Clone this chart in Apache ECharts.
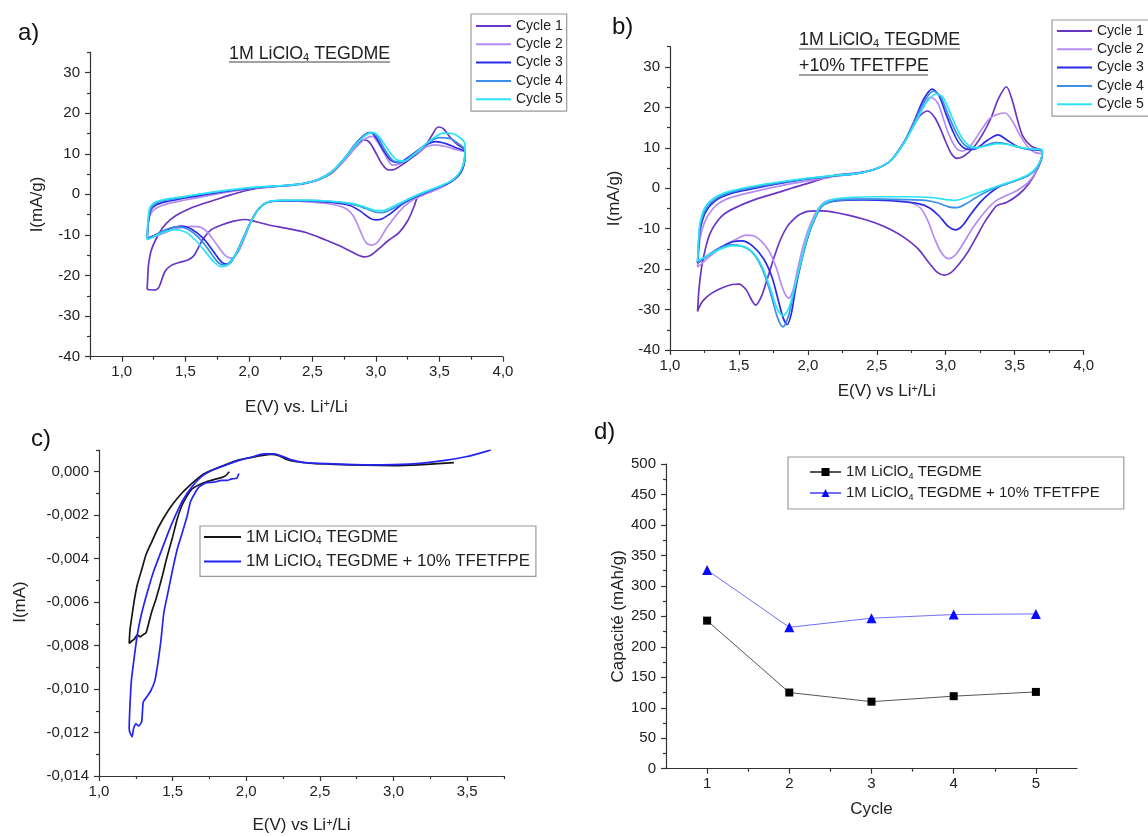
<!DOCTYPE html>
<html>
<head>
<meta charset="utf-8">
<script src="https://cdn.jsdelivr.net/npm/echarts@6/dist/echarts.min.js"></script>
<style>
html,body{margin:0;padding:0;background:#fff;}
#chart{width:1148px;height:837px;}
</style>
</head>
<body>
<div id="chart"></div>
<script>
// ---------------- DATA ----------------
// Panel a) 1M LiClO4 TEGDME : [E (V), I (mA/g)]
const a_cycle1 = [[1.2,-23.4],[1.205,-20],[1.21,-17.5],[1.23,-14],[1.27,-11],[1.32,-8.3],[1.38,-6.3],[1.45,-4.8],[1.55,-3.3],[1.65,-2.2],[1.75,-1.2],[1.85,-0.2],[1.95,0.7],[2.05,1.4],[2.2,1.9],[2.35,2.3],[2.45,2.8],[2.55,3.6],[2.65,5.2],[2.72,7.3],[2.8,10.2],[2.86,12.5],[2.91,13.4],[2.95,12.8],[3.0,10.2],[3.05,7.4],[3.1,6.0],[3.15,6.2],[3.22,7.6],[3.3,9.4],[3.38,11.5],[3.44,14.5],[3.49,16.6],[3.53,16.2],[3.58,14.2],[3.64,12.3],[3.7,10.8],
  [3.7,9.5],[3.68,6.5],[3.63,4.2],[3.55,2.4],[3.45,0.9],[3.38,0.2],[3.33,-0.5],[3.3,-3],[3.25,-6.5],[3.18,-9.5],[3.1,-11.3],[3.02,-13.5],[2.96,-15],[2.91,-15.4],[2.85,-14.8],[2.75,-13.2],[2.6,-11.2],[2.45,-9.4],[2.3,-8.4],[2.15,-7.5],[2.05,-6.7],[1.97,-6.2],[1.88,-6.6],[1.78,-7.6],[1.7,-8.8],[1.63,-11.5],[1.57,-15],[1.52,-16.2],[1.45,-16.8],[1.39,-17.5],[1.34,-19],[1.31,-21.5],[1.29,-23],[1.26,-23.6],[1.22,-23.5],[1.2,-23.4]];
const a_cycle2 = [[1.2,-11],[1.21,-7],[1.23,-4.6],[1.27,-3.4],[1.35,-2.4],[1.5,-1.4],[1.7,-0.2],[1.9,0.9],[2.1,1.7],[2.3,2.1],[2.45,2.7],[2.55,3.6],[2.65,5.3],[2.75,8.3],[2.85,11.8],[2.92,13.8],[2.97,14.3],[3.02,12.5],[3.08,9.3],[3.13,7.2],[3.18,7.4],[3.25,8.8],[3.33,10.4],[3.4,11.8],[3.47,12.2],[3.55,11.8],[3.63,11],[3.7,10.3],
  [3.7,9],[3.67,5.5],[3.6,3.3],[3.5,1.5],[3.4,0.2],[3.3,-1.2],[3.22,-3],[3.15,-5.5],[3.08,-8.5],[3.02,-11.5],[2.97,-12.5],[2.92,-11.8],[2.87,-8.5],[2.82,-5.2],[2.75,-3.3],[2.6,-2.2],[2.4,-1.7],[2.25,-1.6],[2.15,-2],[2.08,-3.5],[2.02,-6.5],[1.97,-10.5],[1.92,-14],[1.87,-15.7],[1.82,-15.2],[1.75,-12.5],[1.68,-9.5],[1.62,-8.1],[1.55,-7.9],[1.45,-8.3],[1.35,-9.3],[1.27,-10.3],[1.2,-11]];
const a_cycle3 = [[1.2,-10.8],[1.21,-6.5],[1.23,-3.8],[1.27,-2.6],[1.35,-1.8],[1.5,-0.9],[1.7,0.2],[1.9,1.1],[2.1,1.8],[2.3,2.2],[2.45,2.8],[2.55,3.7],[2.65,5.5],[2.75,8.8],[2.85,12.8],[2.92,14.9],[2.96,15.2],[3.0,14],[3.06,10.8],[3.12,8.3],[3.18,7.8],[3.25,9],[3.33,10.8],[3.4,12.3],[3.47,13],[3.55,12.5],[3.63,11.5],[3.7,10.5],
  [3.7,9],[3.67,5.5],[3.6,3.3],[3.5,1.8],[3.4,0.6],[3.3,-0.8],[3.2,-2.6],[3.12,-4.6],[3.05,-6],[3.0,-6.3],[2.95,-5.8],[2.88,-4.2],[2.8,-2.8],[2.65,-2],[2.45,-1.6],[2.25,-1.6],[2.15,-1.9],[2.08,-3.5],[2.02,-6.5],[1.96,-10.5],[1.9,-14.5],[1.84,-17.2],[1.79,-16.8],[1.72,-14],[1.64,-10.8],[1.55,-8.6],[1.47,-7.8],[1.4,-8.2],[1.32,-9.2],[1.25,-10.2],[1.2,-10.8]];
const a_cycle4 = [[1.2,-11],[1.21,-6],[1.23,-3.4],[1.27,-2.2],[1.35,-1.4],[1.5,-0.6],[1.7,0.4],[1.9,1.2],[2.1,1.8],[2.3,2.2],[2.45,2.8],[2.55,3.7],[2.65,5.5],[2.75,8.8],[2.85,12.8],[2.92,14.8],[2.97,15.2],[3.02,13.8],[3.08,10.5],[3.14,8.2],[3.2,7.9],[3.27,9.3],[3.35,11.3],[3.42,13],[3.5,14],[3.58,13.8],[3.65,12.5],[3.7,11],
  [3.7,9.5],[3.67,5.8],[3.6,3.4],[3.5,1.9],[3.4,0.7],[3.3,-0.6],[3.2,-2.3],[3.12,-3.7],[3.05,-4.5],[3.0,-4.4],[2.92,-3.5],[2.82,-2.5],[2.65,-1.8],[2.45,-1.5],[2.25,-1.5],[2.15,-1.9],[2.08,-3.5],[2.02,-6.5],[1.96,-10.5],[1.9,-14.5],[1.84,-17],[1.8,-17.4],[1.75,-16.5],[1.68,-13.5],[1.6,-10.5],[1.52,-8.6],[1.44,-8.0],[1.37,-8.4],[1.3,-9.4],[1.25,-10.3],[1.2,-11]];
const a_cycle5 = [[1.2,-11.2],[1.205,-7],[1.22,-3.4],[1.26,-2],[1.33,-1.3],[1.5,-0.5],[1.7,0.5],[1.9,1.3],[2.1,1.9],[2.3,2.2],[2.45,2.8],[2.55,3.7],[2.65,5.5],[2.75,8.8],[2.85,12.5],[2.93,14.8],[2.98,15.2],[3.03,14],[3.1,10.8],[3.16,8.6],[3.22,8.2],[3.3,9.8],[3.38,12],[3.46,14],[3.53,15.1],[3.6,15],[3.66,14],[3.7,12.5],
  [3.7,10],[3.67,6],[3.6,3.5],[3.5,2],[3.4,0.8],[3.3,-0.5],[3.2,-2],[3.12,-3.2],[3.05,-4],[3.0,-4],[2.92,-3.2],[2.82,-2.3],[2.65,-1.7],[2.45,-1.5],[2.25,-1.5],[2.15,-1.9],[2.08,-3.6],[2.02,-6.6],[1.96,-10.6],[1.9,-14.6],[1.84,-17.3],[1.78,-17.8],[1.72,-16.5],[1.65,-13.8],[1.57,-11],[1.5,-9.3],[1.42,-8.7],[1.35,-9.1],[1.28,-10],[1.2,-11.2]];

// Panel b) 1M LiClO4 TEGDME +10% TFETFPE : [E (V), I (mA/g)]
const b_cycle1 = [[1.2,-30.5],[1.21,-25],[1.23,-19.4],[1.26,-14.5],[1.29,-11.2],[1.34,-8.3],[1.4,-6.2],[1.5,-4.4],[1.6,-3],[1.7,-1.9],[1.8,-0.9],[1.9,0.2],[2.0,1.2],[2.1,2.3],[2.2,3.2],[2.3,3.6],[2.4,4.0],[2.5,4.9],[2.6,6.8],[2.7,11.5],[2.76,15],[2.81,17.8],[2.87,19.1],[2.92,17.5],[2.96,14.8],[3.0,11.5],[3.04,8.6],[3.08,7.4],[3.13,7.9],[3.2,10],[3.27,13.5],[3.33,17.5],[3.38,22],[3.44,25.1],[3.48,22],[3.52,17],[3.56,12.8],[3.62,10.4],[3.7,9.2],
  [3.7,8.5],[3.67,5],[3.6,1],[3.52,-1.8],[3.44,-3.5],[3.37,-4.3],[3.33,-6],[3.28,-8.5],[3.22,-12.2],[3.16,-15.8],[3.1,-18.6],[3.04,-20.8],[2.99,-21.5],[2.94,-20.8],[2.88,-18.5],[2.8,-15],[2.7,-12.2],[2.6,-10.2],[2.5,-8.7],[2.4,-7.6],[2.3,-6.7],[2.2,-6],[2.1,-5.6],[2.0,-5.7],[1.94,-6.5],[1.9,-7.6],[1.85,-9.5],[1.8,-12.8],[1.75,-17.6],[1.7,-23],[1.66,-27],[1.62,-28.9],[1.59,-27.5],[1.55,-25],[1.5,-23.7],[1.45,-23.8],[1.38,-24.6],[1.3,-26],[1.24,-27.8],[1.21,-29.5],[1.2,-30.5]];
const b_cycle2 = [[1.2,-19.5],[1.21,-15],[1.22,-12],[1.25,-8.5],[1.29,-6],[1.35,-3.8],[1.45,-2.2],[1.6,-0.9],[1.8,0.6],[2.0,1.8],[2.2,3],[2.35,3.6],[2.5,4.9],[2.6,6.8],[2.7,11.5],[2.77,16],[2.83,20.2],[2.89,22.5],[2.94,21.2],[2.98,17.5],[3.02,13.5],[3.07,10.2],[3.12,9.2],[3.18,10.5],[3.25,14],[3.32,17.3],[3.38,18.3],[3.43,18.6],[3.48,16.8],[3.54,13],[3.6,10],[3.65,8.8],[3.7,8.5],
  [3.7,8.2],[3.66,4.5],[3.6,1.5],[3.52,-0.5],[3.44,-1.8],[3.36,-3.2],[3.28,-6],[3.2,-9.6],[3.13,-13.5],[3.07,-16.5],[3.02,-17.4],[2.97,-16],[2.92,-12.5],[2.87,-8],[2.82,-5],[2.75,-3.6],[2.6,-2.9],[2.4,-2.6],[2.25,-2.6],[2.15,-3],[2.1,-4],[2.05,-6.5],[2.0,-10.5],[1.96,-15],[1.92,-21],[1.89,-25.5],[1.86,-27.2],[1.82,-25],[1.77,-19.6],[1.72,-15.6],[1.66,-13],[1.6,-11.7],[1.55,-11.6],[1.48,-12.6],[1.4,-14],[1.32,-16],[1.25,-18],[1.2,-19.5]];
const b_cycle3 = [[1.2,-18.5],[1.21,-13],[1.22,-10],[1.25,-6.5],[1.29,-4.3],[1.35,-2.6],[1.45,-1.2],[1.6,-0.1],[1.8,1.2],[2.0,2.3],[2.2,3.1],[2.35,3.6],[2.5,4.9],[2.6,6.8],[2.7,11.5],[2.77,16.5],[2.84,22],[2.9,24.5],[2.95,23],[3.0,18.5],[3.05,14.2],[3.1,11],[3.16,9.6],[3.22,9.8],[3.3,11.8],[3.38,13.2],[3.44,12],[3.52,10.3],[3.6,9.6],[3.7,9.2],
  [3.7,8.5],[3.66,5],[3.6,3.2],[3.5,1.8],[3.4,0.6],[3.32,-1.2],[3.25,-3.5],[3.18,-6.5],[3.12,-9.3],[3.07,-10.3],[3.02,-9.5],[2.95,-6.8],[2.88,-4.8],[2.8,-3.8],[2.6,-3.1],[2.4,-2.9],[2.25,-3],[2.15,-3.5],[2.1,-4.5],[2.05,-7.5],[2.0,-12],[1.95,-18.5],[1.91,-25],[1.88,-31],[1.85,-33.7],[1.82,-32],[1.78,-27],[1.74,-22],[1.68,-17.5],[1.6,-14.3],[1.52,-13],[1.45,-13.3],[1.37,-14.5],[1.28,-16.5],[1.2,-18.5]];
const b_cycle4 = [[1.2,-18.3],[1.21,-12],[1.22,-9],[1.25,-5.8],[1.29,-3.8],[1.35,-2.2],[1.45,-0.9],[1.6,0.2],[1.8,1.4],[2.0,2.4],[2.2,3.1],[2.35,3.6],[2.5,4.9],[2.6,6.8],[2.7,11.5],[2.77,16.3],[2.85,21.8],[2.91,24],[2.96,22.8],[3.02,18],[3.08,13.5],[3.14,10.6],[3.2,9.8],[3.28,10.5],[3.36,11.3],[3.44,11],[3.52,10.2],[3.6,9.7],[3.7,9.3],
  [3.7,8.6],[3.66,5],[3.6,3.2],[3.5,1.8],[3.4,0.6],[3.3,-0.8],[3.22,-2.3],[3.15,-3.8],[3.08,-4.8],[3.02,-4.6],[2.94,-3.6],[2.85,-3],[2.7,-2.8],[2.5,-2.7],[2.3,-2.8],[2.18,-3.2],[2.1,-4.5],[2.05,-7.5],[2.0,-12],[1.95,-18.5],[1.9,-25.5],[1.86,-31.5],[1.82,-34.3],[1.78,-32],[1.73,-26],[1.67,-20],[1.6,-16],[1.52,-14.3],[1.44,-14],[1.36,-14.8],[1.28,-16.5],[1.2,-18.3]];
const b_cycle5 = [[1.2,-18],[1.21,-11],[1.22,-8.2],[1.25,-5],[1.29,-3.2],[1.35,-1.8],[1.45,-0.6],[1.6,0.5],[1.8,1.6],[2.0,2.5],[2.2,3.2],[2.35,3.6],[2.5,4.9],[2.6,6.8],[2.7,11.3],[2.78,16.2],[2.86,21.2],[2.93,23.3],[2.98,22.5],[3.04,18],[3.1,13.5],[3.16,10.8],[3.22,10],[3.3,10.5],[3.38,11],[3.46,10.8],[3.54,10.1],[3.62,9.7],[3.7,9.6],
  [3.7,8.8],[3.66,5.2],[3.6,3.4],[3.5,1.9],[3.4,0.8],[3.3,-0.4],[3.2,-1.6],[3.12,-2.6],[3.07,-3],[3.0,-2.8],[2.9,-2.3],[2.7,-2.1],[2.5,-2.1],[2.3,-2.3],[2.18,-2.8],[2.1,-4.2],[2.05,-7.2],[2.0,-11.5],[1.95,-18],[1.9,-25],[1.86,-29.8],[1.82,-31.5],[1.78,-30],[1.73,-25],[1.67,-19.5],[1.6,-15.8],[1.52,-14.3],[1.45,-14.2],[1.37,-15],[1.28,-16.5],[1.2,-18]];

// Panel c) linear sweeps : [E (V), I (mA)]
const c_tegdme = [[1.885,0.0],[1.86,-0.00018],[1.835,-0.00026],[1.78,-0.00036],[1.73,-0.00046],[1.68,-0.0006],[1.63,-0.0008],[1.59,-0.0012],[1.56,-0.0016],[1.53,-0.0022],[1.5,-0.003],[1.475,-0.0036],[1.455,-0.0041],[1.43,-0.0048],[1.41,-0.0053],[1.385,-0.0059],[1.36,-0.0064],[1.34,-0.0069],[1.32,-0.0074],[1.3,-0.0075],[1.28,-0.0076],[1.26,-0.0075],[1.24,-0.0077],[1.22,-0.0078],[1.205,-0.0079],[1.21,-0.0073],[1.22,-0.0068],[1.24,-0.0059],[1.26,-0.0052],[1.29,-0.0045],[1.32,-0.0038],[1.36,-0.0032],[1.4,-0.0026],[1.45,-0.002],[1.5,-0.0015],[1.56,-0.001],[1.62,-0.0006],[1.69,-0.0002],[1.76,0.00005],[1.85,0.0003],[1.94,0.00053],[2.02,0.00064],[2.1,0.00074],[2.17,0.0008],[2.22,0.00074],[2.27,0.00058],[2.33,0.00047],[2.45,0.00038],[2.6,0.00034],[2.8,0.0003],[3.0,0.00028],[3.2,0.00033],[3.41,0.00042]];
const c_tfetfpe = [[1.95,-0.00008],[1.935,-0.0003],[1.9,-0.00033],[1.87,-0.0004],[1.835,-0.0004],[1.78,-0.00048],[1.73,-0.0005],[1.68,-0.0007],[1.65,-0.001],[1.62,-0.0014],[1.6,-0.002],[1.57,-0.0027],[1.53,-0.0036],[1.5,-0.0045],[1.47,-0.0055],[1.44,-0.0065],[1.42,-0.0078],[1.4,-0.0088],[1.38,-0.0096],[1.35,-0.0101],[1.32,-0.0104],[1.3,-0.0106],[1.29,-0.0115],[1.27,-0.0117],[1.25,-0.0116],[1.235,-0.0118],[1.225,-0.0122],[1.21,-0.012],[1.205,-0.0118],[1.21,-0.0108],[1.22,-0.0096],[1.24,-0.0085],[1.26,-0.0075],[1.29,-0.0065],[1.33,-0.0055],[1.37,-0.0046],[1.42,-0.0037],[1.47,-0.0028],[1.52,-0.002],[1.57,-0.0013],[1.63,-0.0007],[1.7,-0.0002],[1.78,0.0001],[1.86,0.0003],[1.95,0.00052],[2.04,0.00068],[2.12,0.00082],[2.19,0.00082],[2.24,0.00072],[2.3,0.00056],[2.4,0.00042],[2.6,0.00036],[2.8,0.00032],[3.0,0.00033],[3.2,0.0004],[3.35,0.00052],[3.5,0.0007],[3.6,0.00088],[3.66,0.001]];

// Panel d) capacity vs cycle
const d_cycles = [1, 2, 3, 4, 5];
const d_tegdme = [243, 125, 110, 119, 126];
const d_tfetfpe = [326, 232, 247, 253, 254];

// Tick values
const ab_xMajor = [1.0, 1.5, 2.0, 2.5, 3.0, 3.5, 4.0];
const ab_xMinor = [0.75, 1.25, 1.75, 2.25, 2.75, 3.25, 3.75];
const ab_yMajor = [-40, -30, -20, -10, 0, 10, 20, 30];
const ab_yMinor = [-35, -25, -15, -5, 5, 15, 25, 35];
const c_xMajor = [1.0, 1.5, 2.0, 2.5, 3.0, 3.5];
const c_xMinor = [1.25, 1.75, 2.25, 2.75, 3.25, 3.75];
const c_yMajor = [-0.014, -0.012, -0.010, -0.008, -0.006, -0.004, -0.002, 0.000];
const c_yMinor = [-0.013, -0.011, -0.009, -0.007, -0.005, -0.003, -0.001, 0.001];
const d_xMajor = [1, 2, 3, 4, 5];
const d_xMinor = [1.5, 2.5, 3.5, 4.5];
const d_yMajor = [0, 50, 100, 150, 200, 250, 300, 350, 400, 450, 500];
const d_yMinor = [25, 75, 125, 175, 225, 275, 325, 375, 425, 475];

const cycleNames = ['Cycle 1', 'Cycle 2', 'Cycle 3', 'Cycle 4', 'Cycle 5'];

// ---------------- STYLE ----------------
const FONT = '"Liberation Sans", Arial, Helvetica, sans-serif';
const AX = '#333';
const TXT = '#222';
const cycleColors = ['#6a35c2', '#b58cf2', '#2a2ae8', '#3b8fe6', '#2ae4f4'];

const comma = d => v => v.toFixed(d).replace('.', ',').replace(/^-0,0+$/, m => m.slice(1));

function axes(dim, g, min, max, majors, minors, fmt, margin, name, nameGap, namePad) {
  const pos = dim === 'x' ? 'bottom' : 'left';
  const prim = {
    type: 'value', gridIndex: g, min, max, position: pos,
    axisLine: {show: true, onZero: false, lineStyle: {color: AX, width: 1.2}},
    axisTick: {show: true, length: 5, customValues: majors, lineStyle: {color: AX, width: 1.2}},
    axisLabel: {show: true, customValues: majors, formatter: fmt, margin, color: TXT, fontSize: 15, fontFamily: FONT},
    splitLine: {show: false},
    name, nameLocation: 'middle', nameGap,
    nameTextStyle: {color: TXT, fontSize: 17, fontFamily: FONT, padding: namePad || 0,
      rich: {sup: {fontSize: 11, fontFamily: FONT, color: TXT, verticalAlign: 'top', lineHeight: 12}}}
  };
  const minor = {
    type: 'value', gridIndex: g, min, max, position: pos,
    axisLine: {show: false, onZero: false},
    axisTick: {show: true, length: 3, customValues: minors, lineStyle: {color: AX, width: 1.2}},
    axisLabel: {show: false},
    splitLine: {show: false}
  };
  return [prim, minor];
}

const grids = [
  {left: 90, top: 52.3, width: 413, height: 304.4},   // a
  {left: 670, top: 46.7, width: 413.6, height: 303.3}, // b
  {left: 99, top: 450, width: 405, height: 326},       // c
  {left: 666, top: 464, width: 411, height: 304.7}     // d
].map(g => Object.assign({containLabel: false, outerBoundsMode: 'none'}, g));

const xAxis = [].concat(
  axes('x', 0, 0.75, 4.0, ab_xMajor, ab_xMinor, comma(1), 8, 'E(V) vs. Li{sup|+}/Li', 42),
  axes('x', 1, 1.0, 4.0, ab_xMajor, ab_xMinor, comma(1), 8, 'E(V) vs Li{sup|+}/Li', 33, [0, 0, 0, 20]),
  axes('x', 2, 1.0, 3.75, c_xMajor, c_xMinor, comma(1), 8, 'E(V) vs Li{sup|+}/Li', 41),
  axes('x', 3, 0.5, 5.5, d_xMajor, d_xMinor, v => String(v), 8, 'Cycle', 32)
);
const yAxis = [].concat(
  axes('y', 0, -40, 35, ab_yMajor, ab_yMinor, v => String(v), 10, 'I(mA/g)', 44),
  axes('y', 1, -40, 35, ab_yMajor, ab_yMinor, v => String(v), 10, 'I(mA/g)', 47),
  axes('y', 2, -0.014, 0.001, c_yMajor, c_yMinor, comma(3), 10, 'I(mA)', 70, [0, 0, 0, 22]),
  axes('y', 3, 0, 500, d_yMajor, d_yMinor, v => String(v), 10, 'Capacité (mAh/g)', 38)
);

function cv(name, data, g, color) {
  return {
    name, type: 'line', data, xAxisIndex: 2 * g, yAxisIndex: 2 * g,
    symbol: 'none', smooth: 0.3, smoothMonotone: 'none',
    lineStyle: {color, width: 1.7}, itemStyle: {color}, emphasis: {disabled: true}
  };
}

const aData = [a_cycle1, a_cycle2, a_cycle3, a_cycle4, a_cycle5];
const bData = [b_cycle1, b_cycle2, b_cycle3, b_cycle4, b_cycle5];
const series = [];
aData.forEach((d, i) => series.push(cv('a' + (i + 1), d, 0, cycleColors[i])));
bData.forEach((d, i) => series.push(cv('b' + (i + 1), d, 1, cycleColors[i])));
series.push(Object.assign(cv('c1', c_tegdme, 2, '#161616'), {smooth: 0.15}));
series.push(Object.assign(cv('c2', c_tfetfpe, 2, '#2323f5'), {smooth: 0.15}));
series.push({
  name: 'd1', type: 'line', xAxisIndex: 6, yAxisIndex: 6,
  data: d_cycles.map((c, i) => [c, d_tegdme[i]]),
  symbol: 'rect', symbolSize: 8, itemStyle: {color: '#000'},
  lineStyle: {color: '#555', width: 1}, emphasis: {disabled: true}
});
series.push({
  name: 'd2', type: 'line', xAxisIndex: 6, yAxisIndex: 6,
  data: d_cycles.map((c, i) => [c, d_tfetfpe[i]]),
  symbol: 'triangle', symbolSize: 10, itemStyle: {color: '#0a0aff'},
  lineStyle: {color: '#6e6eff', width: 1}, emphasis: {disabled: true}
});

const subRich = (fs) => ({
  sub: {fontSize: Math.round(fs * 0.62), fontFamily: FONT, color: TXT, verticalAlign: 'bottom', lineHeight: 8}
});
const legendNames = {
  a1: 'Cycle 1', a2: 'Cycle 2', a3: 'Cycle 3', a4: 'Cycle 4', a5: 'Cycle 5',
  b1: 'Cycle 1', b2: 'Cycle 2', b3: 'Cycle 3', b4: 'Cycle 4', b5: 'Cycle 5',
  c1: '1M LiClO{sub|4} TEGDME', c2: '1M LiClO{sub|4} TEGDME + 10% TFETFPE',
  d1: '1M LiClO{sub|4} TEGDME', d2: '1M LiClO{sub|4} TEGDME + 10% TFETFPE'
};
const legendBase = {
  orient: 'vertical', borderColor: '#9a9a9a', borderWidth: 1.2, borderRadius: 0,
  selectedMode: false, formatter: n => legendNames[n], inactiveColor: '#ccc'
};
const legend = [
  Object.assign({}, legendBase, {
    data: ['a1', 'a2', 'a3', 'a4', 'a5'], left: 471, top: 14,
    itemWidth: 35, itemHeight: 14, itemGap: 4.3, padding: [5, 4, 5, 4],
    itemStyle: {opacity: 0},
    textStyle: {fontSize: 14, fontFamily: FONT, color: TXT, lineHeight: 14}
  }),
  Object.assign({}, legendBase, {
    data: ['b1', 'b2', 'b3', 'b4', 'b5'], left: 1052, top: 20,
    itemWidth: 35, itemHeight: 14, itemGap: 4.3, padding: [4, 6, 5, 4],
    itemStyle: {opacity: 0},
    textStyle: {fontSize: 14, fontFamily: FONT, color: TXT, lineHeight: 14}
  }),
  Object.assign({}, legendBase, {
    data: ['c1', 'c2'], left: 200, top: 526,
    itemWidth: 37, itemHeight: 18, itemGap: 6.4, padding: [2, 6, 6, 3],
    itemStyle: {opacity: 0},
    textStyle: {fontSize: 16.8, fontFamily: FONT, color: TXT, lineHeight: 18, rich: subRich(16.8)}
  }),
  Object.assign({}, legendBase, {
    data: ['d1', 'd2'], left: 788, top: 457,
    itemWidth: 31, itemHeight: 10, itemGap: 3, padding: [6, 24, 7, 21],
    textStyle: {fontSize: 15, fontFamily: FONT, color: TXT, lineHeight: 18, rich: subRich(15)}
  })
];

function label(text, x, y) {
  return {type: 'text', x, y, silent: true,
    style: {text, fontSize: 24, fontFamily: FONT, fill: '#111', textVerticalAlign: 'middle', verticalAlign: 'middle'}};
}
function title(text, x, y) {
  return {type: 'text', x, y, silent: true,
    style: {text, fontSize: 17.8, fontFamily: FONT, fill: TXT, textVerticalAlign: 'middle', verticalAlign: 'middle',
      rich: {sub: {fontSize: 11, fontFamily: FONT, fill: TXT, color: TXT, verticalAlign: 'bottom', lineHeight: 8}}}};
}
function uline(x1, x2, y) {
  return {type: 'line', silent: true, shape: {x1, y1: y, x2, y2: y}, style: {stroke: '#444', lineWidth: 1.2}};
}

const graphic = [
  label('a)', 18, 33), label('b)', 612, 27), label('c)', 31, 439), label('d)', 594, 432),
  title('1M LiClO{sub|4} TEGDME', 229, 54), uline(229, 390, 62),
  title('1M LiClO{sub|4} TEGDME', 799, 40), uline(799, 960, 49),
  title('+10% TFETFPE', 799, 66), uline(799, 928, 75)
];

const chart = echarts.init(document.getElementById('chart'), null, {renderer: 'canvas'});
chart.setOption({
  animation: false,
  backgroundColor: '#fff',
  textStyle: {fontFamily: FONT},
  grid: grids, xAxis, yAxis, series, legend, graphic
});
</script>
</body>
</html>
